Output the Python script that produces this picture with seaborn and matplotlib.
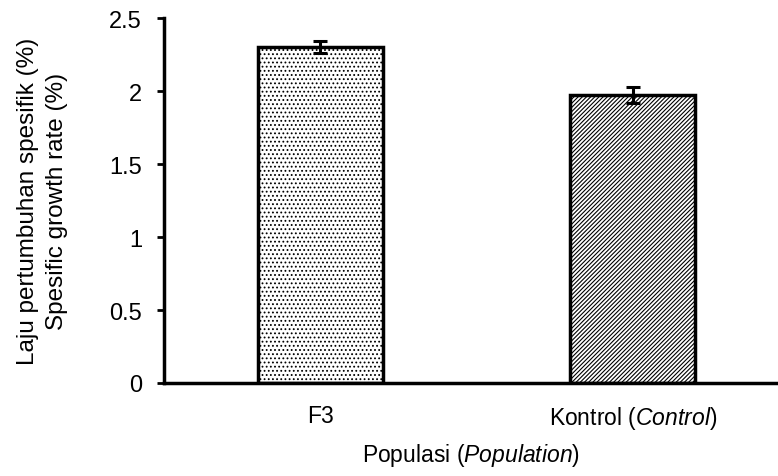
import matplotlib
matplotlib.use("Agg")
import matplotlib.pyplot as plt
import seaborn as sns
import pandas as pd

categories = ["F3", "Kontrol (Control)"]
values = [2.30, 1.97]
errors = [0.04, 0.055]
hatches = ["....", "////////"]
ytick_vals = [0, 0.5, 1, 1.5, 2, 2.5]
ytick_labels = ["0", "0.5", "1", "1.5", "2", "2.5"]

sns.set_theme(style="white")
FONT = ['Liberation Sans', 'DejaVu Sans']
plt.rcParams['font.family'] = FONT
plt.rcParams['mathtext.fontset'] = 'custom'
plt.rcParams['mathtext.rm'] = 'Liberation Sans'
plt.rcParams['mathtext.it'] = 'Liberation Sans:italic'
plt.rcParams['hatch.linewidth'] = 0.8
plt.rcParams['hatch.color'] = '#333333'

fig = plt.figure(figsize=(7.78, 4.77), dpi=100)
ax = fig.add_axes([0.211, 0.195, 0.789, 0.765])

df = pd.DataFrame({"cat": categories, "val": values})
sns.barplot(data=df, x="cat", y="val", ax=ax, width=0.40, color="white",
            edgecolor="black", linewidth=2.5, errorbar=None)
for patch, h in zip(ax.patches, hatches):
    patch.set_hatch(h)
    patch.set_facecolor("white")
    patch.set_edgecolor("black")

ax.errorbar(range(len(values)), values, yerr=errors, fmt="none",
            ecolor="black", elinewidth=2.2, capsize=4.7, capthick=2.2, zorder=5)

ax.set_xlim(-0.5, 1.465)
ax.set_ylim(0, 2.5)
ax.set_yticks(ytick_vals)
ax.set_yticklabels(ytick_labels, fontsize=17)
ax.set_xticks([0, 1])
ax.set_xticklabels(["F3", r"Kontrol ($\it{Control}$)"], fontsize=16.5)
ax.tick_params(axis="y", which="both", direction="out", length=5, width=2,
               left=True, color="black", pad=11, labelcolor="black")
ax.tick_params(axis="x", length=0, pad=15, labelcolor="black")

for s in ["top", "right"]:
    ax.spines[s].set_visible(False)
for s in ["left", "bottom"]:
    ax.spines[s].set_visible(True)
    ax.spines[s].set_color("black")
    ax.spines[s].set_linewidth(2.5)

ax.set_xlabel(r"Populasi ($\it{Population}$)", fontsize=16.5, labelpad=7, color="black")
ax.set_ylabel("Laju pertumbuhan spesifik (%)\nSpesific growth rate (%)",
              fontsize=17.5, labelpad=30, color="black", linespacing=1.4)

fig.savefig("out.png", dpi=100)
